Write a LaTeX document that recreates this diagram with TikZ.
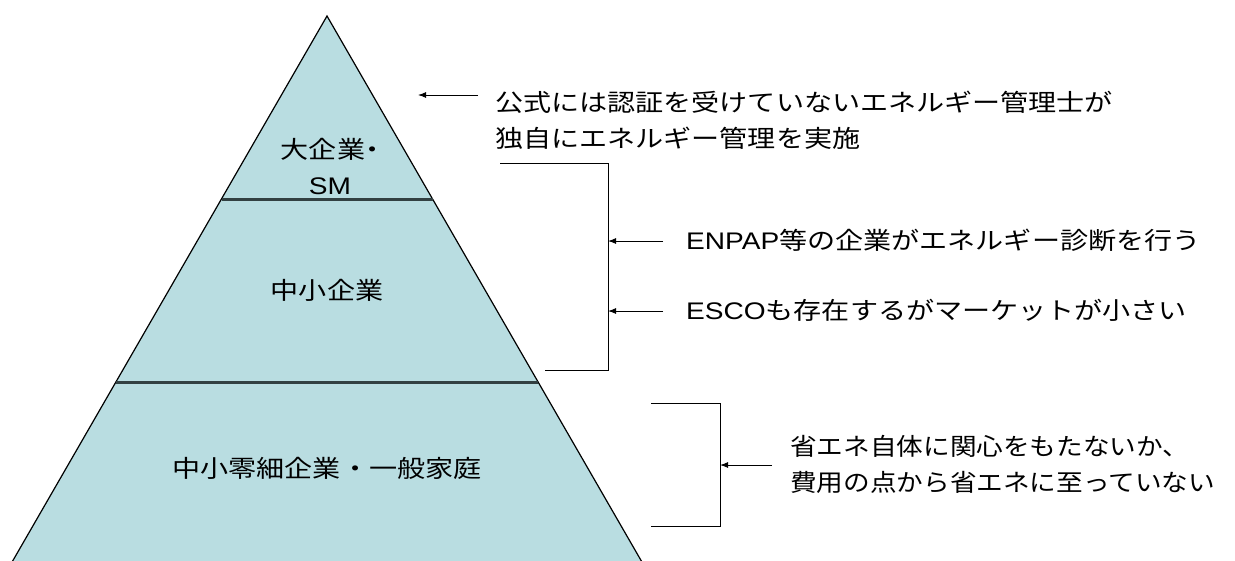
\documentclass[tikz,border=0pt]{standalone}
\usepackage{fontspec}
\newfontfamily\jp[FakeStretch=1.17]{Noto Sans CJK JP}
\newfontfamily\jpn[FakeStretch=1.11]{Noto Sans CJK JP}
\newfontfamily\jpp[FakeStretch=1.17,RawFeature=+palt]{Noto Sans CJK JP}
\newfontfamily\lat[FakeStretch=1.17]{Liberation Sans}
\usetikzlibrary{arrows.meta}
\definecolor{pyr}{RGB}{185,221,225}
\definecolor{divc}{RGB}{50,64,66}
\tikzset{
  lbl/.style={font=\jp\fontsize{24}{36}\selectfont, inner sep=0pt},
  note/.style={lbl, anchor=west, align=left},
  conn/.style={line width=1pt, black},
  arr/.style={conn, -{Latex[length=8pt,width=6pt]}},
  divider/.style={line width=3pt, divc},
}
\begin{document}
\begin{tikzpicture}[x=1pt,y=-1pt]
\useasboundingbox (0,0) rectangle (1235,560);
\begin{scope}
\clip (0,0) rectangle (1235,560);
\fill[pyr] (327,16) -- (680,628) -- (-26,628) -- cycle;
\draw[line width=1.2pt] (-26,628) -- (327,16) -- (680,628);
\end{scope}
\coordinate (d1l) at (221.5,199.5); \coordinate (d1r) at (432.5,199.5);
\coordinate (d2l) at (116,382); \coordinate (d2r) at (538,382);
\draw[divider] (d1l) -- (d1r);
\draw[divider] (d2l) -- (d2r);

\node[lbl, align=center] (top) at (330,166) {大企業{\jpp ・}\\{\lat SM}};
\node[lbl] (mid) at (327,290) {中小企業};
\node[lbl] (bot) at (327,468) {中小零細企業・一般家庭};

\node[note] (t1) at (495,120) {公式には認証を受けていないエネルギー管理士が\\独自にエネルギー管理を実施};
\node[note] (t2) at (686,240) {{\lat ENPAP}等の企業がエネルギー診断を行う};
\node[note] (t3) at (686,310) {{\lat ESCO}も存在するがマーケットが小さい};
\node[note, font=\jpn\fontsize{24}{36}\selectfont] (t4) at (790,464) {省エネ自体に関心をもたないか、\\費用の点から省エネに至っていない};

% brackets
\coordinate (b1a) at (500,163); \coordinate (b1b) at (608,163);
\coordinate (b1c) at (608,370); \coordinate (b1d) at (545,370);
\draw[conn] (b1a) -- (b1b) -- (b1c) -- (b1d);
\coordinate (b2a) at (651,403); \coordinate (b2b) at (720,403);
\coordinate (b2c) at (720,526); \coordinate (b2d) at (651,526);
\draw[conn] (b2a) -- (b2b) -- (b2c) -- (b2d);

% arrows
\coordinate (a1s) at (478,95); \coordinate (a1e) at (418,95);
\coordinate (a2s) at (663,241); \coordinate (a2e) at (608,241);
\coordinate (a3s) at (663,311); \coordinate (a3e) at (608,311);
\coordinate (a4s) at (772,465); \coordinate (a4e) at (720,465);
\draw[arr] (a1s) -- (a1e);
\draw[arr] (a2s) -- (a2e);
\draw[arr] (a3s) -- (a3e);
\draw[arr] (a4s) -- (a4e);
\end{tikzpicture}
\end{document}
